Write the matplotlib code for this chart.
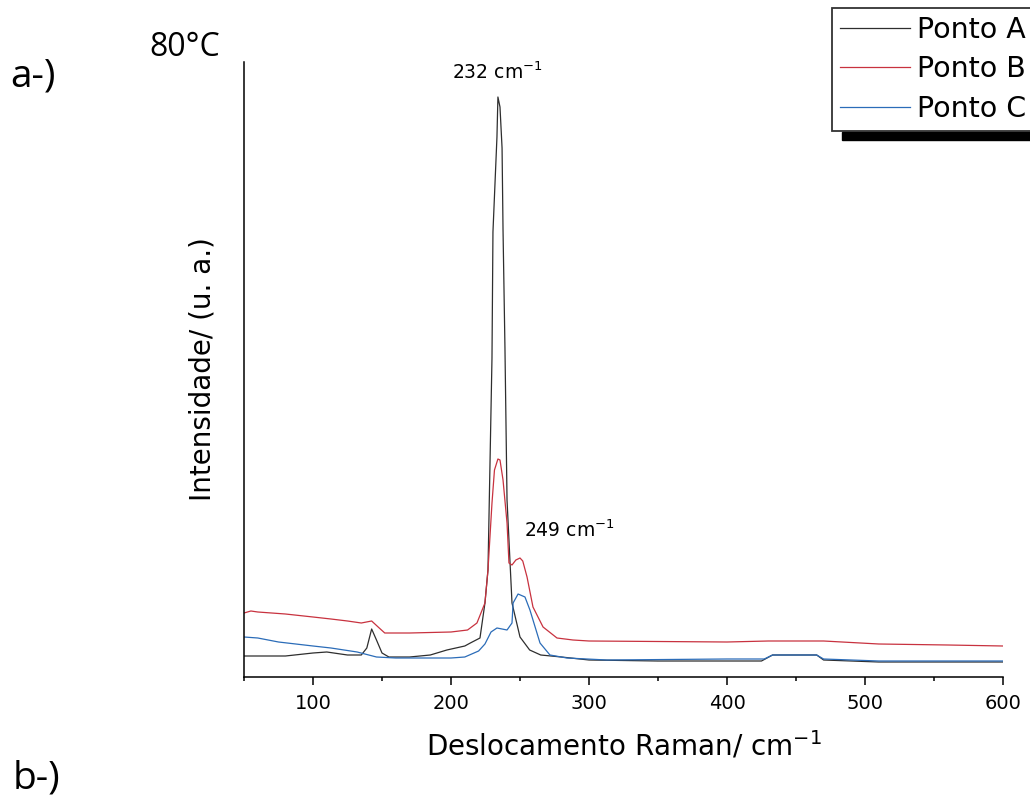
import matplotlib
matplotlib.use("Agg")
import matplotlib.pyplot as plt
from matplotlib.patches import Rectangle
from matplotlib.ticker import MultipleLocator

# Raman spectra at 80 C, three points on the sample (arbitrary intensity units)
ponto_a_x = [50, 80, 100, 110, 125, 135, 139, 142.5, 146, 150,
             155, 170, 185, 197, 210, 214, 221, 224.6, 226.8, 229.7,
             230.4, 233.3, 234, 235.5, 237, 237.7, 239.1, 240.6, 242.8, 244.2,
             250, 257, 265, 280, 300, 350, 425, 433, 465, 470,
             510, 600]
ponto_a_y = [21, 21, 24, 25, 22, 22, 29, 48, 37, 24,
             20, 20, 22, 27, 31, 34, 39, 74, 107, 319,
             445, 540, 580, 570, 529, 447, 329, 177, 114, 74,
             40, 27, 22, 20, 17, 16, 16, 22, 22, 17,
             15, 15]

ponto_b_x = [50, 55, 60, 80, 100, 113, 125, 135, 142.5, 148,
             152, 170, 200, 212, 218.8, 224.6, 226.8, 229.7, 231.5, 234,
             235.5, 237.7, 240.6, 242, 244.2, 247, 250, 252, 255.1, 259.4,
             266.7, 276.8, 288.4, 300, 400, 430, 470, 510, 560, 600]
ponto_b_y = [64, 66, 65, 63, 60, 58, 56, 54, 56, 49,
             44, 44, 45, 47, 54, 74, 107, 174, 207, 218,
             217, 197, 154, 114, 112, 117, 119, 116, 100, 70,
             50, 39, 37, 36, 35, 36, 36, 33, 32, 31]

ponto_c_x = [50, 60, 75, 100, 113, 132, 146, 160, 200, 210,
             220, 224.6, 229, 233.3, 237, 240.6, 244.2, 245, 248.6, 253.6,
             257.2, 264.5, 271.7, 284, 313, 400, 427, 433, 465, 470,
             510, 600]
ponto_c_y = [40, 39, 35, 31, 29, 25, 20, 19, 19, 20,
             26, 33, 45, 49, 48, 47, 54, 74, 83, 80,
             67, 34, 22, 19, 17, 18, 18, 22, 22, 18,
             16, 16]

series_labels = ["Ponto A", "Ponto B", "Ponto C"]
series_colors = ["#2e2e2e", "#c8323f", "#2b6cb8"]
peak_labels = [(233.3, 605, "232 cm$^{-1}$"), (285.5, 147, "249 cm$^{-1}$")]

fig = plt.figure(figsize=(10.3, 8.01), dpi=100)
ax = fig.add_axes([244 / 1030, 124 / 801, 759 / 1030, 615 / 801])

for xs, ys, lab, col in zip([ponto_a_x, ponto_b_x, ponto_c_x],
                            [ponto_a_y, ponto_b_y, ponto_c_y],
                            series_labels, series_colors):
    ax.plot(xs, ys, color=col, lw=0.9, label=lab)

ax.set_xlim(50, 600)
ax.set_ylim(0, 615)
ax.spines["top"].set_visible(False)
ax.spines["right"].set_visible(False)
for s in ("left", "bottom"):
    ax.spines[s].set_linewidth(1.1)
ax.set_yticks([])
ax.xaxis.set_major_locator(MultipleLocator(100))
ax.xaxis.set_minor_locator(MultipleLocator(50))
ax.tick_params(axis="x", which="major", direction="out", length=6, width=1.1,
               labelsize=14, pad=6)
ax.tick_params(axis="x", which="minor", direction="out", length=3, width=1.1)

ax.set_xlabel("Deslocamento Raman/ cm$^{-1}$", fontsize=20, labelpad=12)
ax.set_ylabel("Intensidade/ (u. a.)", fontsize=20, labelpad=20)

for px, py, txt in peak_labels:
    ax.text(px, py, txt, fontsize=13.5, ha="center", va="center")

# panel marks
fig.text(185 / 1030, 1 - 47 / 801, "80°C", fontsize=23, family="Open Sans",
         ha="center", va="center")
fig.text(33 / 1030, 1 - 77 / 801, "a-)", fontsize=28, family="Open Sans",
         ha="center", va="center")
fig.text(36 / 1030, 1 - 778 / 801, "b-)", fontsize=28, family="Open Sans",
         ha="center", va="center")

# legend with solid black drop shadow
leg = ax.legend(loc="upper left", bbox_to_anchor=(832 / 1030, 1 - 8 / 801),
                bbox_transform=fig.transFigure, fontsize=20.5, frameon=True,
                fancybox=False, edgecolor="black", borderpad=0.28,
                handlelength=2.45, handletextpad=0.25, labelspacing=0.4,
                borderaxespad=0)
leg.get_frame().set_linewidth(1.3)
leg.set_zorder(5)
fig.add_artist(Rectangle((842 / 1030, 1 - 140 / 801), 200 / 1030, 8 / 801,
                         transform=fig.transFigure, color="black", zorder=4))

fig.savefig("out.png", dpi=100)
